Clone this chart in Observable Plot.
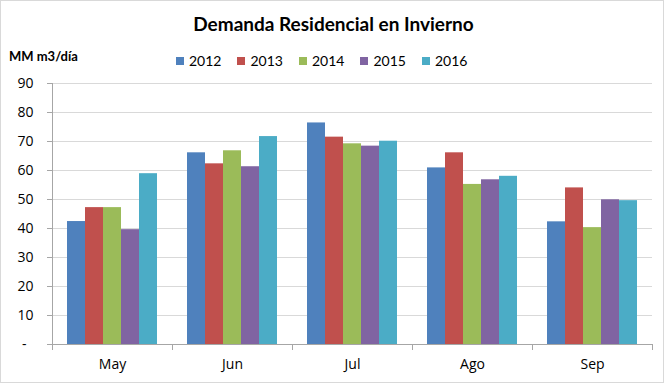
<!DOCTYPE html>
<html>
<head>
<meta charset="utf-8">
<script src="https://cdn.jsdelivr.net/npm/d3@7"></script>
<script src="https://cdn.jsdelivr.net/npm/@observablehq/plot@0.6"></script>
<style>
  html, body { margin: 0; padding: 0; background: #fff; }
  #wrap { position: relative; width: 667px; height: 384px; overflow: hidden; }
  #frame { position: absolute; left: 0; top: 0; width: 662px; height: 381px; border: 1px solid #d9d9d9; pointer-events: none; }
  #header { position: relative; height: 70px; }
  #title { position: absolute; left: 0; width: 667px; top: 13px; text-align: center; font: bold 19px/22px Lato, sans-serif; color: #000; }
  #unit { position: absolute; left: 9px; top: 48px; font: bold 13px/16px Lato, sans-serif; color: #000; }
  #legend { position: absolute; left: 176px; top: 52px; display: flex; font: 14px/18px Lato, sans-serif; color: #000; }
  .item { display: flex; align-items: center; margin-right: 16px; }
  .sw { width: 8px; height: 8px; margin-right: 5px; }
  #chart svg { display: block; }
</style>
</head>
<body>
<div id="wrap">
  <div id="header">
    <div id="title">Demanda Residencial en Invierno</div>
    <div id="unit">MM m3/día</div>
    <div id="legend"></div>
  </div>
  <div id="chart"></div>
  <div id="frame"></div>
</div>
<script>
const months = ["May", "Jun", "Jul", "Ago", "Sep"];
const years = ["2012", "2013", "2014", "2015", "2016"];
const colors = ["#4f81bd", "#c0504d", "#9bbb59", "#8064a2", "#4bacc6"];
const s2012 = [42.4, 66.1, 76.4, 60.9, 42.3];
const s2013 = [47.2, 62.3, 71.5, 66.1, 54.0];
const s2014 = [47.2, 66.8, 69.2, 55.2, 40.3];
const s2015 = [39.6, 61.3, 68.4, 56.8, 49.9];
const s2016 = [58.9, 71.7, 70.1, 58.0, 49.6];
const yTicks = [0, 10, 20, 30, 40, 50, 60, 70, 80, 90];

const series = [s2012, s2013, s2014, s2015, s2016];
const data = [];
years.forEach((yr, i) => months.forEach((m, j) => data.push({month: m, year: yr, value: series[i][j]})));

const legend = document.getElementById("legend");
years.forEach((yr, i) => {
  const it = document.createElement("div");
  it.className = "item";
  it.innerHTML = `<span class="sw" style="background:${colors[i]}"></span><span>${yr}</span>`;
  legend.appendChild(it);
});

const plotH = 261;
const chart = Plot.plot({
  width: 667,
  height: 314,
  marginTop: 13,
  marginBottom: 40,
  marginLeft: 52,
  marginRight: 15,
  style: {fontFamily: "'Open Sans', sans-serif", fontSize: "14px", color: "#000", background: "transparent"},
  fx: {domain: months, padding: 0, label: null},
  x: {domain: years, paddingInner: 0, paddingOuter: 0.8, axis: null},
  y: {domain: [0, 90], label: null},
  color: {domain: years, range: colors},
  marks: [
    Plot.gridY(yTicks.filter(d => d > 0), {stroke: "#d9d9d9", strokeOpacity: 1}),
    Plot.barY(data, {fx: "month", x: "year", y: "value", fill: "year"}),
    Plot.ruleY([0], {stroke: "#a6a6a6"}),
    Plot.frame({anchor: "left", stroke: "#a6a6a6", strokeOpacity: 1, facetAnchor: "left"}),
    Plot.frame({anchor: "left", stroke: "#a6a6a6", strokeOpacity: 1, insetTop: plotH, insetBottom: -5}),
    Plot.frame({anchor: "right", stroke: "#a6a6a6", strokeOpacity: 1, insetTop: plotH, insetBottom: -5, facetAnchor: "right"}),
    Plot.axisY(yTicks, {
      tickSize: 5, tickPadding: 14, stroke: "#a6a6a6", strokeOpacity: 1,
      tickFormat: d => d === 0 ? "-\u2002" : String(d), fill: "#000", fontSize: 14, label: null
    }),
    Plot.axisFx({anchor: "bottom", tickSize: 0, tickPadding: 15, fontSize: 14, fill: "#000", label: null})
  ]
});
document.getElementById("chart").appendChild(chart);
</script>
</body>
</html>
